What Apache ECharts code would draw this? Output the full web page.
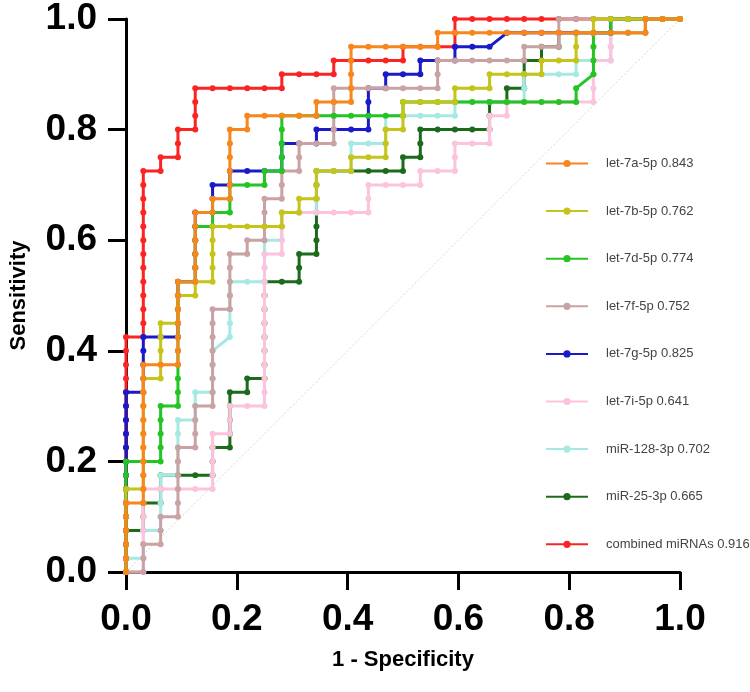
<!DOCTYPE html>
<html><head><meta charset="utf-8">
<script src="https://cdn.jsdelivr.net/npm/echarts@6/dist/echarts.min.js"></script>
<style>html,body{margin:0;padding:0;background:#fff}#c{width:750px;height:692px}</style>
</head><body><div id="c"></div>
<script>
// Step counts: x = false positives out of nControls, y = true positives out of nCases
const nControls = 32;
const nCases = 40;
const tickValues = [0, 0.2, 0.4, 0.6, 0.8, 1.0];

const names = ['let-7a-5p','let-7b-5p','let-7d-5p','let-7f-5p','let-7g-5p','let-7i-5p','miR-128-3p','miR-25-3p','combined miRNAs'];
const aucs  = ['0.843','0.762','0.774','0.752','0.825','0.641','0.702','0.665','0.916'];
const colors = ['#f7861c','#c4c41a','#25c425','#c9a3a3','#1a1ac8','#fbc3dc','#a6e9e3','#1c6b1c','#fa2424'];

// ROC corner vertices [false positives, true positives]
const let7a = [[0,0],[0,5],[1,5],[1,15],[3,15],[3,21],[4,21],[4,26],[5,26],[5,27],[6,27],[6,32],[7,32],[7,33],[11,33],[11,34],[13,34],[13,38],[18,38],[18,39],[30,39],[30,40],[32,40]];
const let7b = [[0,0],[0,6],[1,6],[1,14],[2,14],[2,18],[3,18],[3,20],[4,20],[4,21],[5,21],[5,25],[9,25],[9,26],[10,26],[10,27],[11,27],[11,29],[13,29],[13,30],[15,30],[15,32],[16,32],[16,34],[19,34],[19,35],[21,35],[21,36],[24,36],[24,37],[26,37],[26,39],[27,39],[27,40],[32,40]];
const let7d = [[0,0],[0,8],[2,8],[2,12],[3,12],[3,21],[4,21],[4,25],[5,25],[5,26],[6,26],[6,28],[8,28],[8,29],[9,29],[9,33],[16,33],[16,34],[26,34],[26,35],[27,36],[27,39],[28,39],[28,40],[32,40]];
const let7f = [[0,0],[1,0],[1,2],[2,2],[2,4],[3,4],[3,9],[4,9],[4,12],[5,12],[5,19],[6,19],[6,23],[7,23],[7,24],[8,24],[8,27],[9,27],[9,29],[10,29],[10,31],[12,31],[12,35],[18,35],[18,37],[23,37],[23,38],[25,38],[25,40],[32,40]];
const let7g = [[0,0],[0,13],[1,13],[1,17],[3,17],[3,21],[4,21],[4,26],[5,26],[5,28],[6,28],[6,29],[9,29],[9,31],[11,31],[11,32],[14,32],[14,35],[15,35],[15,36],[17,36],[17,37],[19,37],[19,38],[21,38],[22,39],[28,39],[28,40],[32,40]];
const let7i = [[0,0],[1,0],[1,6],[5,6],[5,10],[6,10],[6,12],[8,12],[8,23],[9,23],[9,26],[14,26],[14,28],[17,28],[17,29],[19,29],[19,31],[21,31],[21,33],[22,33],[22,34],[27,34],[27,37],[28,37],[28,40],[32,40]];
const miR128 = [[0,0],[0,1],[1,1],[1,3],[2,3],[2,7],[3,7],[3,11],[4,11],[4,13],[5,13],[5,16],[6,17],[6,21],[8,21],[8,24],[9,24],[9,26],[11,26],[11,29],[13,29],[13,31],[15,31],[15,33],[19,33],[19,34],[23,34],[23,36],[26,36],[26,37],[28,37],[28,39],[30,39],[30,40],[32,40]];
const miR25 = [[0,0],[0,3],[1,3],[1,5],[2,5],[2,7],[5,7],[5,9],[6,9],[6,13],[7,13],[7,14],[8,14],[8,21],[10,21],[10,23],[11,23],[11,29],[16,29],[16,30],[17,30],[17,32],[21,32],[21,34],[22,34],[22,35],[23,35],[23,37],[24,37],[24,38],[25,38],[25,39],[30,39],[30,40],[32,40]];
const combined = [[0,0],[0,17],[1,17],[1,29],[2,29],[2,30],[3,30],[3,32],[4,32],[4,35],[9,35],[9,36],[12,36],[12,37],[16,37],[16,38],[19,38],[19,40],[32,40]];

const curves = [let7a, let7b, let7d, let7f, let7g, let7i, miR128, miR25, combined];

// every threshold point lies on a grid step between read corners
function thresholdPoints(c) {
  const pts = [];
  for (let i = 0; i < c.length - 1; i++) {
    const a = c[i], b = c[i + 1];
    const n = Math.max(Math.abs(b[0] - a[0]), Math.abs(b[1] - a[1]));
    for (let s = 0; s < n; s++) {
      pts.push([(a[0] + (b[0] - a[0]) * s / n) / nControls, (a[1] + (b[1] - a[1]) * s / n) / nCases]);
    }
  }
  const l = c[c.length - 1];
  pts.push([l[0] / nControls, l[1] / nCases]);
  return pts;
}

const labels = names.map((n, i) => n + ' ' + aucs[i]);
const series = [{
  type: 'line', data: [[0, 0], [1, 1]], symbol: 'none', silent: true, z: 1, clip: false,
  lineStyle: { color: '#d6d6d6', width: 1, type: [2, 2] }
}];
curves.forEach((c, i) => {
  series.push({
    name: labels[i], type: 'line', data: thresholdPoints(c), symbol: 'circle', symbolSize: 6,
    showAllSymbol: true, clip: false, z: 20 - i, color: colors[i],
    lineStyle: { width: 3, color: colors[i] }, itemStyle: { color: colors[i] }
  });
});

const axisCommon = {
  type: 'value', min: 0, max: 1, interval: 0.2,
  axisLine: { show: true, lineStyle: { color: '#000', width: 3 } },
  axisTick: { show: true, length: 18, lineStyle: { color: '#000', width: 3 } },
  axisLabel: { fontSize: 37, fontWeight: 'bold', color: '#000', fontFamily: 'Liberation Sans', margin: 29,
    formatter: v => tickValues.find(t => Math.abs(t - v) < 1e-9).toFixed(1) },
  splitLine: { show: false },
  nameLocation: 'middle',
  nameTextStyle: { fontSize: 22, fontWeight: 'bold', color: '#000', fontFamily: 'Liberation Sans' }
};

const chart = echarts.init(document.getElementById('c'));
chart.setOption({
  animation: false,
  backgroundColor: '#fff',
  grid: { left: 125, top: 19, width: 555, height: 553, containLabel: false },
  xAxis: Object.assign({}, axisCommon, { name: '1 - Specificity', nameGap: 77 }),
  yAxis: Object.assign({}, axisCommon, { name: 'Sensitivity', nameGap: 96 }),
  legend: {
    data: labels, orient: 'vertical', left: 540, top: 152,
    itemWidth: 42, itemHeight: 9, itemGap: 34.6,
    textStyle: { fontSize: 13, color: '#444', fontFamily: 'Liberation Sans', padding: [0, 0, 0, 13] }
  },
  series: series
});
</script></body></html>
